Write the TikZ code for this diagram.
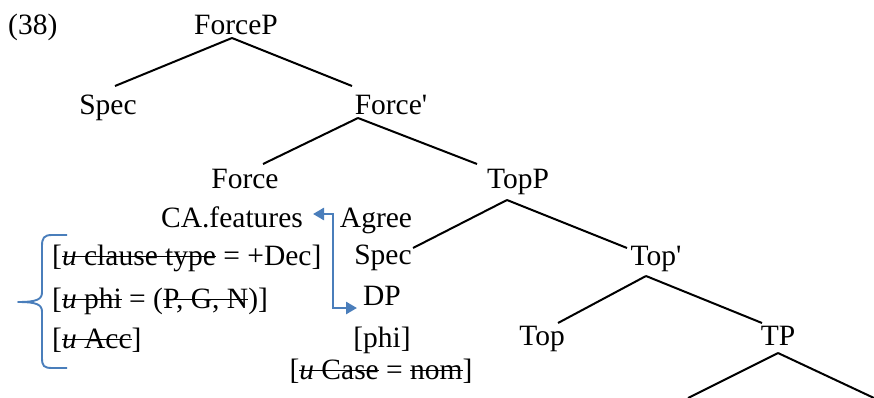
\documentclass[tikz,border=0pt]{standalone}
\usepackage{fontspec}
\setmainfont{Liberation Serif}
\usetikzlibrary{arrows.meta}
\newcommand\strk[1]{\setbox0\hbox{#1}\rlap{\rule[0.26em]{\wd0}{1.5pt}}\box0\relax}
\definecolor{bracecol}{HTML}{4A7EBB}
\definecolor{arrowcol}{HTML}{4A7EBB}
\tikzset{
  lab/.style={inner sep=0pt, anchor=base, font=\fontsize{29.5}{34}\selectfont},
  labw/.style={lab, anchor=base west},
  branch/.style={line width=2pt, black},
  agreearrow/.style={line width=2.6pt, arrowcol, {Triangle[length=11pt,width=12pt]}-{Triangle[length=11pt,width=12pt]}},
  bracestyle/.style={line width=1.9pt, bracecol, line join=round}
}
\begin{document}
\begin{tikzpicture}[x=1pt,y=-1pt]
\useasboundingbox (0,0) rectangle (874,398);
\clip (0,0) rectangle (874,398);
% labels
\node[labw] (ex) at (8,35) {(38)};
\node[lab] (ForceP) at (236,35) {ForceP};
\node[lab] (SpecA) at (108,115) {Spec};
\node[lab] (Forcebar) at (391,115) {Force\textquotesingle};
\node[lab] (Force) at (245,188) {Force};
\node[lab] (TopP) at (518,188) {TopP};
\node[lab] (CA) at (232,227) {CA.features};
\node[lab] (Agree) at (376,227) {Agree};
\node[lab] (SpecB) at (383,264) {Spec};
\node[lab] (Topbar) at (656,265) {Top\textquotesingle};
\node[lab] (DP) at (382,305) {DP};
\node[lab] (phi) at (382,347) {[phi]};
\node[lab] (Top) at (542,345) {Top};
\node[lab] (TP) at (778,345) {TP};
\node[lab] (case) at (381,379) {[\strk{\textit{u} Case} = \strk{nom}]};
\node[labw] (f1) at (52,265) {[\strk{\textit{u} clause type} = +Dec]};
\node[labw] (f2) at (52,308) {[\strk{\textit{u} phi} = (\strk{P, G, N})]};
\node[labw] (f3) at (52,348) {[\strk{\textit{u} Acc}]};
% tree branches
\draw[branch] ([shift={(-4,3)}]ForceP.base) -- ([shift={(7,-29)}]SpecA.base);
\draw[branch] ([shift={(-4,3)}]ForceP.base) -- ([shift={(-39,-29)}]Forcebar.base);
\draw[branch] ([shift={(-33,3)}]Forcebar.base) -- ([shift={(18,-24)}]Force.base);
\draw[branch] ([shift={(-33,3)}]Forcebar.base) -- ([shift={(-41,-24)}]TopP.base);
\draw[branch] ([shift={(-11,12)}]TopP.base) -- ([shift={(30,-16)}]SpecB.base);
\draw[branch] ([shift={(-11,12)}]TopP.base) -- ([shift={(-29,-17)}]Topbar.base);
\draw[branch] ([shift={(-10,11)}]Topbar.base) -- ([shift={(16,-22)}]Top.base);
\draw[branch] ([shift={(-10,11)}]Topbar.base) -- ([shift={(-16,-22)}]TP.base);
\coordinate (TPl) at (688,398);
\coordinate (TPr) at (874,398);
\draw[branch] ([shift={(0,8)}]TP.base) -- (TPl);
\draw[branch] ([shift={(0,8)}]TP.base) -- (TPr);
% agree arrow
\coordinate (agA) at (313,214);
\coordinate (agB) at (333,214);
\coordinate (agC) at (333,308);
\coordinate (agD) at (357,308);
\draw[agreearrow] (agA) -- (agB) -- (agC) -- (agD);
% brace
\draw[bracestyle] (67,235) -- (52,235) .. controls (44,235) and (42,238) .. (42,246)
  -- (42,292) .. controls (42,299) and (38,302) .. (18,302)
  .. controls (38,302) and (42,305) .. (42,312)
  -- (42,358) .. controls (42,366) and (44,368) .. (52,368) -- (67,368);
\end{tikzpicture}
\end{document}
